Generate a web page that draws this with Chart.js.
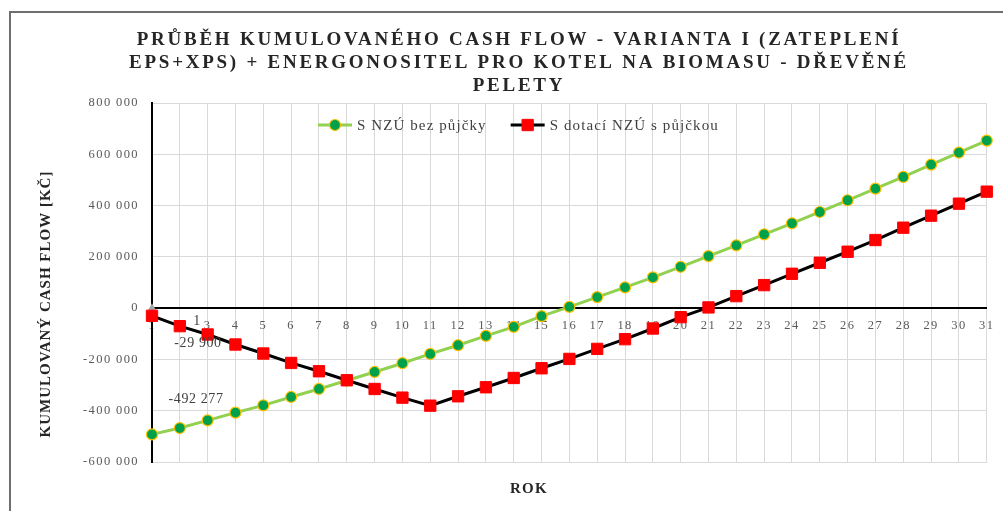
<!DOCTYPE html>
<html lang="cs">
<head>
<meta charset="utf-8">
<title>Průběh kumulovaného cash flow</title>
<script src="https://cdn.jsdelivr.net/npm/chart.js@4.4.1/dist/chart.umd.min.js"></script>
<style>
  html, body { margin: 0; padding: 0; background: #fff; }
  #wrap { position: relative; width: 1003px; height: 511px; overflow: hidden; }
  #frame { position: absolute; left: 9px; top: 11px; width: 1100px; height: 600px;
           border-left: 2px solid #6e6e6e; border-top: 2px solid #6e6e6e; }
  #cf { position: absolute; left: 0; top: 0; }
</style>
</head>
<body>
<div id="wrap">
  <div id="frame"></div>
  <canvas id="cf" width="1003" height="511"></canvas>
</div>
<script>
// cumulative cash flow, variant I (insulation EPS+XPS + biomass boiler)

const titleLines = [
    'PRŮBĚH KUMULOVANÉHO CASH FLOW - VARIANTA I (ZATEPLENÍ',
    'EPS+XPS) + ENERGONOSITEL PRO KOTEL NA BIOMASU - DŘEVĚNÉ',
    'PELETY'
];
const yTitle = 'KUMULOVANÝ CASH FLOW [KČ]';
const xTitle = 'ROK';

const years = ['1', '2', '3', '4', '5', '6', '7', '8', '9', '10', '11', '12', '13', '14', '15', '16',
    '17', '18', '19', '20', '21', '22', '23', '24', '25', '26', '27', '28', '29', '30', '31'];

const seriesNames = ['S NZÚ bez půjčky', 'S dotací NZÚ s půjčkou'];

// S NZÚ bez půjčky
const bezPujcky = [-492277, -467600, -437500, -407500, -379000, -346400, -315100, -282400, -248800,
    -214800, -178500, -144500, -108200, -73000, -31250, 5000, 43000, 80900, 119900, 161300, 203100,
    244900, 287900, 330900, 375000, 420700, 466000, 511700, 559800, 606600, 653500];

// S dotací NZÚ s půjčkou
const sPujckou = [-29900, -70300, -102700, -141800, -177000, -213700, -246100, -281250, -315200,
    -349000, -380300, -343750, -308600, -272300, -234400, -198000, -158900, -121100, -79400, -35200,
    2700, 46900, 89800, 134000, 177000, 220000, 265600, 313700, 360500, 407400, 454300];

// lone marker at year 1
const startMark = [1];

const yTickValues = [-600000, -400000, -200000, 0, 200000, 400000, 600000, 800000];

const serif = '"Liberation Serif", "Times New Roman", serif';
const textColor = '#404040';

function fmt(v) {
    const s = Math.abs(v).toString().replace(/\B(?=(\d{3})+(?!\d))/g, ' ');
    return (v < 0 ? '-' : '') + s;
}

// wider tracking for the axis tick labels
const tracking = {
    id: 'tracking',
    beforeDraw(chart) { chart.ctx.letterSpacing = '1.4px'; },
    afterDraw(chart) { chart.ctx.letterSpacing = '0px'; }
};

// main title + axis titles
const captions = {
    id: 'captions',
    afterDraw(chart) {
        const ctx = chart.ctx;
        const area = chart.chartArea;
        ctx.save();
        ctx.fillStyle = '#262626';
        ctx.textAlign = 'center';
        ctx.textBaseline = 'middle';
        ctx.font = 'bold 19px ' + serif;
        ctx.letterSpacing = '2.75px';
        titleLines.forEach((t, i) => ctx.fillText(t, 519, 40 + i * 23));
        ctx.font = 'bold 15px ' + serif;
        ctx.letterSpacing = '1.3px';
        ctx.fillText(xTitle, area.left + 377, area.bottom + 27);
        ctx.letterSpacing = '1px';
        ctx.translate(46, area.top + 201);
        ctx.rotate(-Math.PI / 2);
        ctx.fillText(yTitle, 0, 0);
        ctx.restore();
    }
};

// legend drawn inside the plot area
const innerLegend = {
    id: 'innerLegend',
    afterDraw(chart) {
        const ctx = chart.ctx;
        const area = chart.chartArea;
        let x = area.left + 166;
        const y = area.top + 22;
        ctx.save();
        ctx.font = '15px ' + serif;
        ctx.textBaseline = 'middle';
        chart.data.datasets.slice(0, 2).forEach(ds => {
            ctx.letterSpacing = '0px';
            ctx.strokeStyle = ds.borderColor;
            ctx.lineWidth = ds.borderWidth;
            ctx.beginPath();
            ctx.moveTo(x, y);
            ctx.lineTo(x + 34, y);
            ctx.stroke();
            ctx.fillStyle = ds.pointBackgroundColor;
            ctx.strokeStyle = ds.pointBorderColor;
            ctx.lineWidth = ds.pointBorderWidth;
            Chart.helpers.drawPoint(ctx, { pointStyle: ds.pointStyle, radius: ds.pointRadius, borderWidth: ds.pointBorderWidth }, x + 17, y);
            ctx.letterSpacing = '1.1px';
            ctx.fillStyle = textColor;
            ctx.fillText(ds.label, x + 39, y + 1);
            x += 39 + ctx.measureText(ds.label).width + 24;
        });
        ctx.restore();
    }
};

// value labels next to the first points
const pointLabels = {
    id: 'pointLabels',
    afterDatasetsDraw(chart) {
        const ctx = chart.ctx;
        const marks = [
            { ds: 1, dx: 46, dy: 28 },
            { ds: 0, dx: 44, dy: -35 },
            { ds: 2, dx: 45, dy: 13 }
        ];
        ctx.save();
        ctx.font = '14px ' + serif;
        ctx.letterSpacing = '0.6px';
        ctx.fillStyle = textColor;
        ctx.textAlign = 'center';
        ctx.textBaseline = 'middle';
        marks.forEach(m => {
            const pt = chart.getDatasetMeta(m.ds).data[0];
            const v = chart.data.datasets[m.ds].data[0];
            ctx.fillText(fmt(v), pt.x + m.dx, pt.y + m.dy);
        });
        ctx.restore();
    }
};

const ctx = document.getElementById('cf').getContext('2d');
new Chart(ctx, {
    type: 'line',
    data: {
        labels: years,
        datasets: [
            {
                label: seriesNames[0], data: bezPujcky,
                borderColor: '#92d050', borderWidth: 3,
                pointStyle: 'circle', pointRadius: 5.5, pointHoverRadius: 5.5,
                pointBackgroundColor: '#00a14b', pointBorderColor: '#ffc000', pointBorderWidth: 1.2,
                order: 2
            },
            {
                label: seriesNames[1], data: sPujckou,
                borderColor: '#000000', borderWidth: 3,
                pointStyle: 'rect', pointRadius: 8, pointHoverRadius: 8,
                pointBackgroundColor: '#ff0000', pointBorderColor: '#ff0000', pointBorderWidth: 1,
                order: 1
            },
            {
                label: '', data: startMark, showLine: false,
                pointStyle: 'triangle', pointRadius: 5,
                pointBackgroundColor: '#a5a5a5', pointBorderColor: '#a5a5a5', pointBorderWidth: 0,
                order: 3
            }
        ]
    },
    options: {
        responsive: false,
        animation: false,
        layout: { padding: { left: 0, top: 103, right: 15, bottom: 49 } },
        plugins: {
            legend: { display: false },
            title: { display: false },
            tooltip: { enabled: false }
        },
        scales: {
            x: {
                type: 'category',
                position: { y: 0 },
                offset: false,
                grid: { color: '#d9d9d9', lineWidth: 1, drawTicks: false },
                border: { color: '#000000', width: 2 },
                ticks: { color: '#595959', font: { family: serif, size: 12.5 }, padding: 10, maxRotation: 0, autoSkip: false },
                afterFit(scale) { scale.height = 0; }
            },
            y: {
                min: -600000, max: 800000,
                afterBuildTicks(scale) { scale.ticks = yTickValues.map(v => ({ value: v })); },
                grid: { color: '#d9d9d9', lineWidth: 1, drawTicks: false },
                border: { color: '#000000', width: 2 },
                ticks: { color: '#595959', font: { family: serif, size: 12.5 }, padding: 13, callback: v => fmt(v) },
                afterFit(scale) { scale.width = 152; }
            }
        }
    },
    plugins: [tracking, pointLabels, innerLegend, captions]
});
</script>
</body>
</html>
